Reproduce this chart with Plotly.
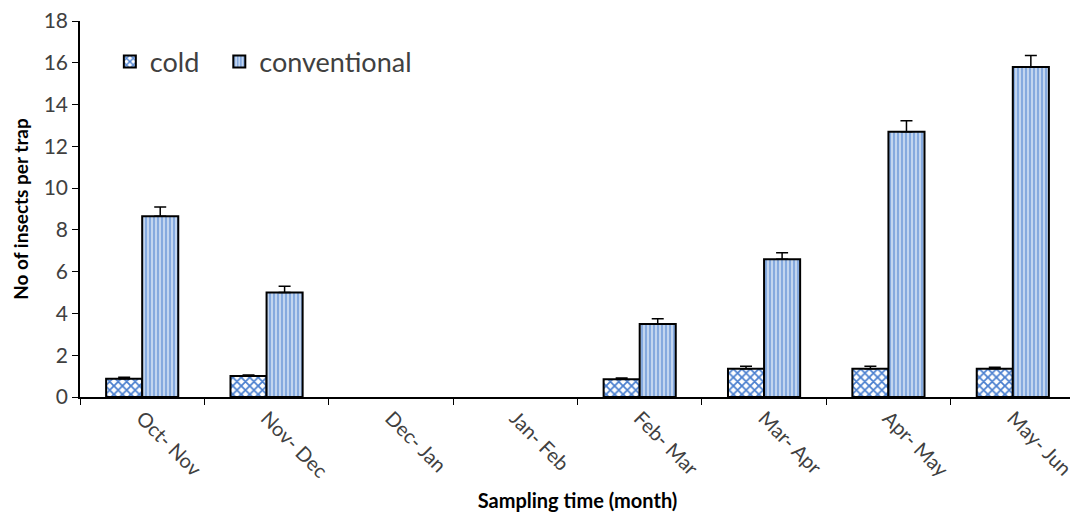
import plotly.graph_objects as go

categories = ["Oct- Nov", "Nov- Dec", "Dec- Jan", "Jan- Feb", "Feb- Mar", "Mar- Apr", "Apr- May", "May- Jun"]
cold = [0.87, 1.0, None, None, 0.85, 1.35, 1.35, 1.35]
cold_err = [0.08, 0.05, 0, 0, 0.06, 0.12, 0.12, 0.07]
conventional = [8.65, 5.0, None, None, 3.5, 6.6, 12.7, 15.8]
conventional_err = [0.45, 0.3, 0, 0, 0.25, 0.3, 0.52, 0.55]

FONT = "Lato"

fig = go.Figure()
fig.add_trace(go.Bar(
    x=categories, y=cold, name="cold", legend="legend",
    marker=dict(color="white", line=dict(color="black", width=2),
                pattern=dict(shape="x", fgcolor="#4a7fcf", bgcolor="white", size=6, solidity=0.5, fillmode="replace")),
    error_y=dict(type="data", array=cold_err, arrayminus=[0]*len(cold_err), symmetric=False,
                 color="black", thickness=1.5, width=6),
))
fig.add_trace(go.Bar(
    x=categories, y=conventional, name="conventional", legend="legend2",
    marker=dict(color="#b4cbeb", line=dict(color="black", width=2),
                pattern=dict(shape="|", fgcolor="#6b97d8", bgcolor="#c2d5ef", size=4, solidity=0.35, fillmode="replace")),
    error_y=dict(type="data", array=conventional_err, arrayminus=[0]*len(conventional_err), symmetric=False,
                 color="black", thickness=1.5, width=6),
))

legend_style = dict(orientation="h", y=0.956, xanchor="left", yanchor="top",
                    font=dict(size=27, color="#404040", family=FONT), bgcolor="rgba(0,0,0,0)",
                    itemwidth=30)

fig.update_layout(
    width=1070, height=504,
    margin=dict(l=72, r=3, t=13, b=115),
    paper_bgcolor="white", plot_bgcolor="white",
    barmode="group", bargap=0.42, bargroupgap=0,
    font=dict(family=FONT, color="#404040"),
    showlegend=True,
    legend=dict(x=0.03, **legend_style),
    legend2=dict(x=0.14, **legend_style),
    xaxis=dict(
        automargin=False,
        showline=True, linecolor="black", linewidth=1.5,
        ticks="outside", ticklen=6, tickcolor="black", tickson="boundaries",
        tickangle=45, tickfont=dict(size=20, color="#404040", family=FONT),
        ticklabeloverflow="allow",
        title=dict(text="<b>Sampling time (month)</b>", font=dict(size=20, color="black", family=FONT), standoff=30),
        range=[-0.5, 7.5],
    ),
    yaxis=dict(
        automargin=False,
        range=[0, 18], dtick=2, showgrid=False, zeroline=False,
        showline=True, linecolor="black", linewidth=1.5,
        ticks="outside", ticklen=6, tickcolor="black",
        ticklabeloverflow="allow",
        tickfont=dict(size=21, color="#404040", family=FONT),
        title=dict(text="<b>No of insects per trap</b>", font=dict(size=19, color="black", family=FONT), standoff=10),
    ),
)

fig.write_html("out.html")
